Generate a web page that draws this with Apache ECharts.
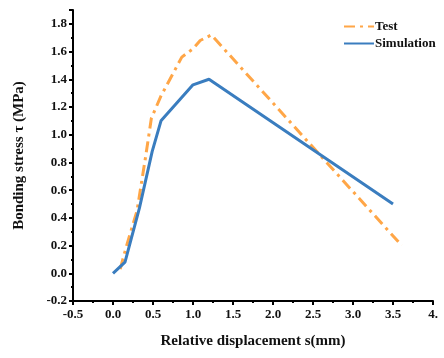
<!DOCTYPE html>
<html>
<head>
<meta charset="utf-8">
<script src="https://cdn.jsdelivr.net/npm/echarts@6/dist/echarts.min.js"></script>
<style>html,body{margin:0;padding:0;background:#fff;}#c{width:444px;height:358px;}</style>
</head>
<body>
<div id="c"></div>
<script>
// Data
const testS = [0.09, 0.17, 0.30, 0.41, 0.48, 0.60, 0.86, 1.00, 1.09, 1.23, 3.61];
const testTau = [0.03, 0.20, 0.45, 0.85, 1.12, 1.28, 1.56, 1.62, 1.68, 1.72, 0.20];
const simS = [0.00, 0.15, 0.33, 0.49, 0.60, 1.00, 1.20, 3.50];
const simTau = [0.00, 0.08, 0.47, 0.88, 1.10, 1.36, 1.40, 0.50];
const xTickLabels = ['-0.5', '0.0', '0.5', '1.0', '1.5', '2.0', '2.5', '3.0', '3.5', '4.'];
const yTickLabels = ['-0.2', '0.0', '0.2', '0.4', '0.6', '0.8', '1.0', '1.2', '1.4', '1.6', '1.8'];

const font = '"Liberation Serif", "Times New Roman", serif';
const orange = '#FFA647';
const blue = '#3A7DBF';

const chart = echarts.init(document.getElementById('c'), null, {renderer: 'canvas'});
const zip = (a, b) => a.map((v, i) => [v, b[i]]);

chart.setOption({
  animation: false,
  backgroundColor: '#fff',
  grid: {left: 73, right: 11, top: 10, bottom: 57},
  legend: {
    orient: 'vertical', left: 338, top: 15, itemGap: 4, itemWidth: 30, itemHeight: 12,
    itemStyle: {opacity: 0},
    textStyle: {fontFamily: font, fontWeight: 'bold', fontSize: 13, color: '#111', padding: [0, 0, 0, -4]},
    data: ['Test', 'Simulation']
  },
  xAxis: {
    type: 'value', min: -0.5, max: 4.0, interval: 0.5, position: 'bottom',
    name: 'Relative displacement s(mm)', nameLocation: 'middle', nameGap: 33,
    nameTextStyle: {fontFamily: font, fontWeight: 'bold', fontSize: 15, color: '#111'},
    axisLine: {show: true, onZero: false, lineStyle: {color: '#000', width: 2}},
    axisTick: {show: true, inside: false, length: 4, lineStyle: {color: '#000', width: 2}},
    minorTick: {show: true, splitNumber: 2, length: 2, lineStyle: {color: '#000', width: 2}},
    axisLabel: {margin: 7, fontFamily: font, fontWeight: 'bold', fontSize: 13, color: '#111',
      formatter: v => xTickLabels[Math.round((v + 0.5) / 0.5)] ?? ''},
    splitLine: {show: false}
  },
  yAxis: {
    type: 'value', min: -0.2, max: 1.9, interval: 0.2, position: 'left',
    name: 'Bonding stress τ (MPa)', nameLocation: 'middle', nameGap: 46,
    nameTextStyle: {fontFamily: font, fontWeight: 'bold', fontSize: 15, color: '#111'},
    axisLine: {show: true, onZero: false, lineStyle: {color: '#000', width: 2}},
    axisTick: {show: true, inside: false, length: 4, lineStyle: {color: '#000', width: 2}},
    minorTick: {show: true, splitNumber: 2, length: 2, lineStyle: {color: '#000', width: 2}},
    axisLabel: {margin: 6, showMaxLabel: false, fontFamily: font, fontWeight: 'bold', fontSize: 13, color: '#111',
      formatter: v => yTickLabels[Math.round((v + 0.2) / 0.2)] ?? ''},
    splitLine: {show: false}
  },
  series: [{
    name: 'Test', type: 'line', data: zip(testS, testTau), showSymbol: false, symbol: 'none',
    color: orange,
    lineStyle: {color: orange, width: 3, type: [11, 5, 3, 5]}
  }, {
    name: 'Simulation', type: 'line', data: zip(simS, simTau), showSymbol: false, symbol: 'none',
    color: blue,
    lineStyle: {color: blue, width: 3}
  }]
});
</script>
</body>
</html>
